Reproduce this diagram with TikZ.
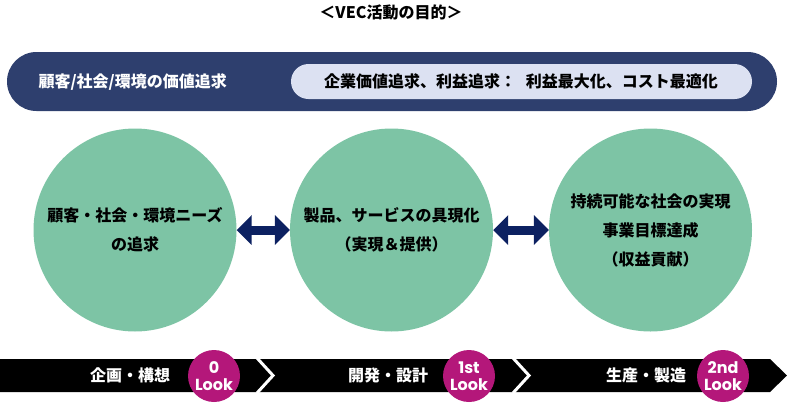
\documentclass[tikz,border=0pt]{standalone}
\usepackage{fontspec}
\setmainfont{Noto Sans CJK JP}
\newfontfamily\lookfont{Poppins}
\usetikzlibrary{arrows.meta}
\definecolor{barnavy}{RGB}{46,63,110}
\definecolor{pillblue}{RGB}{220,225,242}
\definecolor{aimgreen}{RGB}{125,196,165}
\definecolor{arrownavy}{RGB}{12,33,97}
\definecolor{lookpink}{RGB}{180,23,122}
\tikzset{
  aim/.style={circle, fill=aimgreen, minimum size=203pt, inner sep=0pt},
  aimtext/.style={font=\fontsize{16}{29}\selectfont\bfseries, align=center},
  link/.style={arrownavy, line width=9pt,
    {Triangle[width=29pt,length=15pt]}-{Triangle[width=29pt,length=15pt]}},
  look/.style={circle, fill=lookpink, minimum size=52pt, inner sep=0pt,
    text=white, align=center, font=\lookfont\fontsize{16}{17}\selectfont\bfseries},
  phase/.style={text=white, font=\fontsize{16}{16}\selectfont\bfseries},
}
\begin{document}
\begin{tikzpicture}[x=1pt, y=-1pt]
    \useasboundingbox (0,0) rectangle (787,402);

    % Title
    \node[font=\fontsize{16}{16}\selectfont\bfseries] (title) at (391,12) {＜VEC活動の目的＞};

    % Value bar
    \fill[barnavy, rounded corners=29.5pt] (7,52) rectangle (777,111);
    \node[anchor=west, text=white, font=\fontsize{16}{16}\selectfont\bfseries] (social) at (35,82) {顧客/社会/環境の価値追求};
    \fill[pillblue, rounded corners=17.5pt] (291,64) rectangle (752,99);
    \node[font=\fontsize{16}{16}\selectfont\bfseries] (profit) at (521,81.5) {企業価値追求、利益追求：\hspace{0.6em}利益最大化、コスト最適化};

    % Aims
    \node[aim] (needs) at (135,230) {};
    \node[aim] (product) at (391.5,230) {};
    \node[aim] (society) at (650.5,230) {};
    \node[aimtext] at (needs) {顧客・社会・環境ニーズ\\の追求};
    \node[aimtext] at (product) {製品、サービスの具現化\\（実現＆提供）};
    \node[aimtext] at (society) {持続可能な社会の実現\\事業目標達成\\（収益貢献）};

    \draw[link] (needs) -- (product);
    \draw[link] (product) -- (society);

    % Process band
    \fill[black] (0,359) -- (770,359) -- (787,375.5) -- (770,392) -- (0,392) -- cycle;
    \draw[white, line width=3pt] (257,358) -- (273,375.5) -- (257,393);
    \draw[white, line width=3pt] (513,358) -- (529,375.5) -- (513,393);

    \node[phase] (plan) at (130,375.5) {企画・構想};
    \node[phase] (develop) at (388,375.5) {開発・設計};
    \node[phase] (produce) at (646,375.5) {生産・製造};

    \node[look] (look0) at (214,376) {0\\Look};
    \node[look] (look1) at (469,376) {1st\\Look};
    \node[look] (look2) at (723,376) {2nd\\Look};
\end{tikzpicture}
\end{document}
